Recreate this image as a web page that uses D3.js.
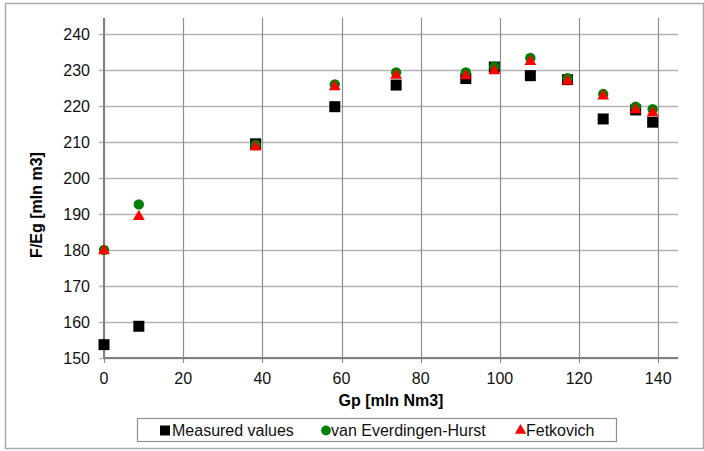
<!DOCTYPE html>
<html>
<head>
<meta charset="utf-8">
<script src="https://cdn.jsdelivr.net/npm/d3@7"></script>
<style>
  body { margin: 0; background: #fff; }
  svg { font-family: "Liberation Sans", Arial, sans-serif; }
</style>
</head>
<body>
<div id="chart"></div>
<script>
// Gp [mln Nm3]
var gp = [0, 8.8, 38.3, 58.3, 73.8, 91.4, 98.6, 107.7, 117.1, 126.1, 134.3, 138.6]
var measured = [153.7, 158.8, 209.4, 219.7, 225.7, 227.5, 230.7, 228.3, 227.2, 216.3, 218.8, 215.4]
var everdingen = [180.0, 192.6, 209.1, 225.9, 229.2, 229.2, 230.8, 233.2, 227.6, 223.2, 219.7, 219.0]
var fetkovich = [180.0, 189.5, 208.8, 225.5, 228.7, 228.5, 229.9, 232.5, 227.1, 222.9, 219.1, 218.3]
var xTicks = [0, 20, 40, 60, 80, 100, 120, 140]
var yTicks = [150, 160, 170, 180, 190, 200, 210, 220, 230, 240]
var seriesNames = ["Measured values", "van Everdingen-Hurst", "Fetkovich"]

var width = 704, height = 451
var margin = {top: 18, right: 26, bottom: 93, left: 104}

var svg = d3.select("#chart").append("svg")
    .attr("width", width)
    .attr("height", height)

// outer frame
svg.append("rect")
    .attr("x", 5.5).attr("y", 3.5)
    .attr("width", 698).attr("height", 445)
    .attr("fill", "none")
    .attr("stroke", "#aaaaaa")
    .attr("stroke-width", 1.5)

var x = d3.scaleLinear().domain([0, 145]).range([margin.left, width - margin.right])
var y = d3.scaleLinear().domain([150, 244.3]).range([height - margin.bottom, margin.top])

// horizontal grid
svg.append("g")
  .selectAll("line")
  .data(yTicks)
  .enter().append("line")
    .attr("x1", margin.left - 5)
    .attr("x2", width - margin.right)
    .attr("y1", function(d) { return Math.round(y(d)) + 0.5 })
    .attr("y2", function(d) { return Math.round(y(d)) + 0.5 })
    .attr("stroke", "#b4b4b4")
    .attr("stroke-width", 1.5)

// vertical grid
svg.append("g")
  .selectAll("line")
  .data(xTicks)
  .enter().append("line")
    .attr("x1", function(d) { return Math.round(x(d)) + 0.5 })
    .attr("x2", function(d) { return Math.round(x(d)) + 0.5 })
    .attr("y1", margin.top)
    .attr("y2", height - margin.bottom + 5)
    .attr("stroke", "#8e8e8e")
    .attr("stroke-width", 1.2)

// axis lines
svg.append("line")
    .attr("x1", x(0)).attr("x2", x(0))
    .attr("y1", margin.top).attr("y2", y(150))
    .attr("stroke", "#808080").attr("stroke-width", 2)
svg.append("line")
    .attr("x1", x(0)).attr("x2", width - margin.right)
    .attr("y1", y(150)).attr("y2", y(150))
    .attr("stroke", "#808080").attr("stroke-width", 2)

// tick labels
svg.append("g")
  .selectAll("text")
  .data(yTicks)
  .enter().append("text")
    .attr("x", margin.left - 14)
    .attr("y", function(d) { return y(d) + 6 })
    .attr("text-anchor", "end")
    .attr("font-size", 16)
    .attr("fill", "#111")
    .text(function(d) { return d })

svg.append("g")
  .selectAll("text")
  .data(xTicks)
  .enter().append("text")
    .attr("x", function(d) { return x(d) })
    .attr("y", y(150) + 26)
    .attr("text-anchor", "middle")
    .attr("font-size", 16)
    .attr("fill", "#111")
    .text(function(d) { return d })

// axis titles
svg.append("text")
    .attr("x", 391)
    .attr("y", 406)
    .attr("text-anchor", "middle")
    .attr("font-size", 16)
    .attr("font-weight", "bold")
    .text("Gp [mln Nm3]")

svg.append("text")
    .attr("transform", "translate(42,205) rotate(-90)")
    .attr("text-anchor", "middle")
    .attr("font-size", 16)
    .attr("font-weight", "bold")
    .text("F/Eg [mln m3]")

var sq = d3.symbol().type(d3.symbolSquare).size(121)
var circ = d3.symbol().type(d3.symbolCircle).size(85)
var tri = d3.symbol().type(d3.symbolTriangle).size(60)

// measured
svg.append("g")
  .selectAll("path")
  .data(gp)
  .enter().append("path")
    .attr("d", sq)
    .attr("transform", function(d, i) { return "translate(" + x(d) + "," + y(measured[i]) + ")" })
    .attr("fill", "#000")

// van Everdingen-Hurst
svg.append("g")
  .selectAll("path")
  .data(gp)
  .enter().append("path")
    .attr("d", circ)
    .attr("transform", function(d, i) { return "translate(" + x(d) + "," + y(everdingen[i]) + ")" })
    .attr("fill", "#008000")

// Fetkovich
svg.append("g")
  .selectAll("path")
  .data(gp)
  .enter().append("path")
    .attr("d", tri)
    .attr("transform", function(d, i) { return "translate(" + x(d) + "," + (y(fetkovich[i]) + 1) + ")" })
    .attr("fill", "#ff0000")

// legend
var legend = svg.append("g")
legend.append("rect")
    .attr("x", 137.5).attr("y", 418.5)
    .attr("width", 479).attr("height", 23)
    .attr("fill", "#fff")
    .attr("stroke", "#909090")
    .attr("stroke-width", 1.2)

var legendItems = [
  {name: seriesNames[0], sym: d3.symbol().type(d3.symbolSquare).size(100), color: "#000", mx: 165, tx: 172},
  {name: seriesNames[1], sym: d3.symbol().type(d3.symbolCircle).size(75), color: "#008000", mx: 326, tx: 331},
  {name: seriesNames[2], sym: d3.symbol().type(d3.symbolTriangle).size(55), color: "#ff0000", mx: 520.5, tx: 526}
]
var li = legend.selectAll("g.item").data(legendItems).enter().append("g")
li.append("path")
    .attr("d", function(d) { return d.sym() })
    .attr("transform", function(d) { return "translate(" + d.mx + ",430.5)" })
    .attr("fill", function(d) { return d.color })
li.append("text")
    .attr("x", function(d) { return d.tx })
    .attr("y", 436)
    .attr("font-size", 16)
    .attr("fill", "#111")
    .text(function(d) { return d.name })
</script>
</body>
</html>
